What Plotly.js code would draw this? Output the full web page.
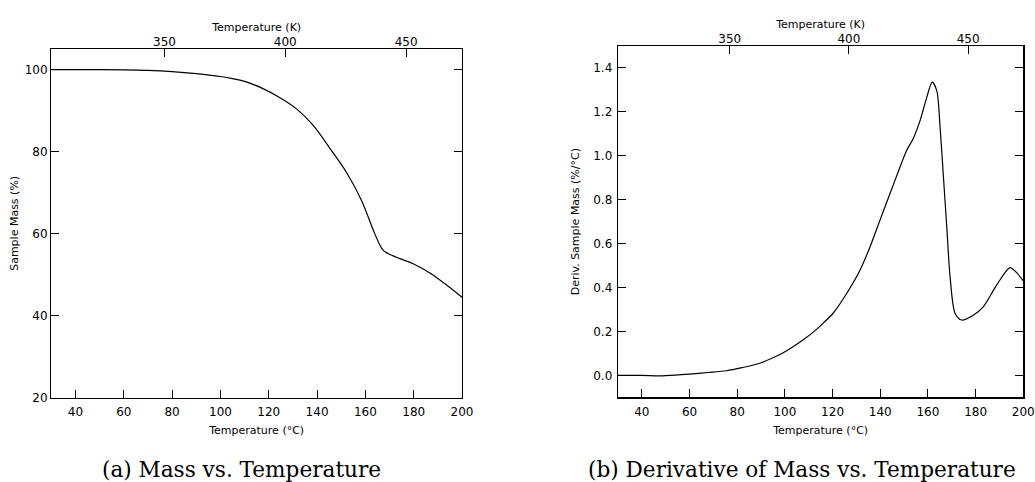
<!DOCTYPE html>
<html>
<head>
<meta charset="utf-8">
<script src="https://cdn.plot.ly/plotly-3.0.1.min.js"></script>
<style>html,body{margin:0;padding:0;background:#fff;}#chart{width:1035px;height:482px;}</style>
</head>
<body>
<div id="chart"></div>
<script>
// ---- data ----
const massTempC = [30,40,50,60,70,80,90,100,105,110,117.6,125,131.5,138.4,145.3,152.2,158.4,163.3,166,167.4,169.5,174.3,180,187,194,200];
const massPct   = [100,100,99.98,99.93,99.8,99.5,99.0,98.3,97.8,97.1,95.35,93.0,90.4,86.4,80.8,74.9,68.1,60.8,57.2,55.9,55.1,53.9,52.6,50.3,47.3,44.5];

const derivTempC = [30,40,47.6,55,61.5,68,75.5,82,89.5,95,99.3,102.1,107.7,111.9,116,120.3,125.9,131.5,135.7,139.9,144.1,148.3,151.1,153.8,156.7,159.5,161.8,163.7,165.1,166.5,167.9,169.3,171.4,174.2,179,183.2,188.8,194.4,197,200];
const derivVal   = [0,0,-0.002,0.002,0.007,0.013,0.021,0.035,0.055,0.08,0.103,0.121,0.162,0.197,0.237,0.284,0.373,0.479,0.585,0.707,0.828,0.949,1.025,1.078,1.16,1.266,1.335,1.297,1.13,0.903,0.676,0.448,0.282,0.252,0.274,0.312,0.411,0.491,0.47,0.43];

const celsiusTicks = [40,60,80,100,120,140,160,180,200];
const kelvinTicks  = [350,400,450];
const massTicks    = [20,40,60,80,100];
const derivTicks   = [0.0,0.2,0.4,0.6,0.8,1.0,1.2,1.4];
const derivTickText = derivTicks.map(v => v.toFixed(1));
const KELVIN_OFFSET = 273.15;
const tempRangeC = [30,200];
const tempRangeK = tempRangeC.map(t => t + KELVIN_OFFSET);

const captions = ['(a) Mass vs. Temperature', '(b) Derivative of Mass vs. Temperature'];

// ---- styling ----
const FONT = 'DejaVu Sans, Verdana, sans-serif';
const tickFont = {family: FONT, size: 12, color: '#000'};
const titleFont = {family: FONT, size: 11, color: '#000'};

function xBottom(domain, anchor) {
  return {
    domain: domain, anchor: anchor, range: tempRangeC,
    tickmode: 'array', tickvals: celsiusTicks,
    ticks: 'inside', ticklen: 8, tickwidth: 1, tickcolor: '#000',
    ticklabelstandoff: 3,
    showline: true, mirror: true, linecolor: '#000', linewidth: 1.3,
    showgrid: false, zeroline: false, tickfont: tickFont,
    title: {text: 'Temperature (°C)', font: titleFont, standoff: 8}
  };
}
function xTop(overlay, anchor) {
  return {
    overlaying: overlay, side: 'top', anchor: anchor, range: tempRangeK,
    tickmode: 'array', tickvals: kelvinTicks,
    ticks: 'inside', ticklen: 8, tickwidth: 1, tickcolor: '#000',
    ticklabelstandoff: 0,
    showline: false, showgrid: false, zeroline: false, tickfont: tickFont,
    title: {text: 'Temperature (K)', font: titleFont, standoff: 0}
  };
}

const traces = [
  {x: massTempC, y: massPct, xaxis: 'x', yaxis: 'y', type: 'scatter', mode: 'lines',
   line: {color: '#000', width: 1.2, shape: 'spline', smoothing: 1.0}, hoverinfo: 'skip'},
  {x: derivTempC, y: derivVal, xaxis: 'x2', yaxis: 'y2', type: 'scatter', mode: 'lines',
   line: {color: '#000', width: 1.2, shape: 'spline', smoothing: 0.8}, hoverinfo: 'skip'},
  // empty helper traces so the Kelvin (top) axes are created
  {x: [], y: [], xaxis: 'x3', yaxis: 'y', type: 'scatter', mode: 'lines', hoverinfo: 'skip'},
  {x: [], y: [], xaxis: 'x4', yaxis: 'y2', type: 'scatter', mode: 'lines', hoverinfo: 'skip'}
];

const layout = {
  width: 1035, height: 482,
  margin: {l: 0, r: 0, t: 0, b: 0},
  paper_bgcolor: '#fff', plot_bgcolor: '#fff',
  showlegend: false,
  xaxis: xBottom([0.0496, 0.4464], 'y'),
  yaxis: {
    domain: [0.1749, 0.8983], anchor: 'x', range: [20, 105],
    tickmode: 'array', tickvals: massTicks,
    ticks: 'inside', ticklen: 8, tickwidth: 1, tickcolor: '#000',
    showline: true, mirror: 'ticks', linecolor: '#000', linewidth: 1.3,
    showgrid: false, zeroline: false, tickfont: tickFont,
    title: {text: 'Sample Mass (%)', font: titleFont, standoff: 4}
  },
  xaxis3: xTop('x', 'y'),
  xaxis2: xBottom([0.5971, 0.9887], 'y2'),
  yaxis2: {
    domain: [0.1757, 0.9046], anchor: 'x2', range: [-0.1, 1.5],
    tickmode: 'array', tickvals: derivTicks, ticktext: derivTickText,
    ticks: 'inside', ticklen: 8, tickwidth: 1, tickcolor: '#000',
    ticklabelstandoff: 2,
    showline: true, mirror: 'ticks', linecolor: '#000', linewidth: 1.3,
    showgrid: false, zeroline: false, tickfont: tickFont,
    title: {text: 'Deriv. Sample Mass (%/°C)', font: titleFont, standoff: 11}
  },
  xaxis4: xTop('x2', 'y2'),
  annotations: [
    {text: captions[0], xref: 'paper', yref: 'paper', x: 241/1035, y: 13/482,
     xanchor: 'center', yanchor: 'middle', showarrow: false,
     font: {family: 'DejaVu Serif, serif', size: 21.6, color: '#000'}},
    {text: captions[1], xref: 'paper', yref: 'paper', x: 802/1035, y: 13/482,
     xanchor: 'center', yanchor: 'middle', showarrow: false,
     font: {family: 'DejaVu Serif, serif', size: 21.6, color: '#000'}}
  ]
};

Plotly.newPlot('chart', traces, layout, {staticPlot: true, displayModeBar: false});
</script>
</body>
</html>
